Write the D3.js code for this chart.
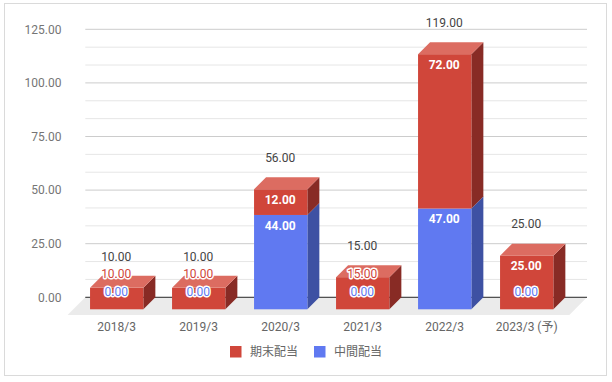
<!DOCTYPE html>
<html>
<head>
<meta charset="utf-8">
<script src="https://cdn.jsdelivr.net/npm/d3@7"></script>
<style>
  body { margin: 0; background: #fff; }
  text { font-family: Roboto, "Noto Sans CJK JP", sans-serif; }
</style>
</head>
<body>
<div id="chart"></div>
<script>
const categories = ['2018/3', '2019/3', '2020/3', '2021/3', '2022/3', '2023/3 (予)']
const interim = [0, 0, 44, 0, 47, 0]   // 中間配当
const final = [10, 10, 12, 15, 72, 25]   // 期末配当
const yTicks = [0, 25, 50, 75, 100, 125]

const seriesNames = ['期末配当', '中間配当']
const colors = {
  final: { front: '#d0463a', top: '#dc6c61', side: '#882b25' },
  interim: { front: '#6079f1', top: '#8a9cf4', side: '#3e51a3' },
}

const width = 612
const height = 382
const depth = 12        // bar depth offset
const floorDepth = 17.7
const labelGap = 17.6

const svg = d3.select('#chart').append('svg')
  .attr('width', width)
  .attr('height', height)

// border
svg.append('rect')
  .attr('x', 4.5).attr('y', 3.5)
  .attr('width', 602).attr('height', 372)
  .attr('fill', 'none')
  .attr('stroke', '#dadada')

// scales (front plane)
const x = d3.scaleBand()
  .domain(categories)
  .range([75.7, 567.7])
  .paddingInner(0.35)
  .paddingOuter(0.175)

const y = d3.scaleLinear()
  .domain([0, 125])
  .range([309.3, 309.3 - 125 * 2.144])

const wallLeft = 85.3
const wallRight = 587
const yBack = v => y(v) - depth

// floor
svg.append('polygon')
  .attr('points', [
    [wallLeft - floorDepth, y(0) + 5.7],
    [wallLeft, yBack(0)],
    [wallRight, yBack(0)],
    [wallRight - floorDepth, y(0) + 5.7],
  ].join(' '))
  .attr('fill', '#ebebeb')

// gridlines on back wall
const minor = d3.range(0, 125.01, 25 / 3)
svg.append('g').selectAll('line')
  .data(minor)
  .join('line')
  .attr('x1', wallLeft).attr('x2', wallRight)
  .attr('y1', d => yBack(d)).attr('y2', d => yBack(d))
  .attr('stroke', d => Math.abs(d % 25) < 0.01 || Math.abs(d % 25 - 25) < 0.01 ? '#cccccc' : '#e6e6e6')
  .attr('stroke-width', 1)

svg.append('line')
  .attr('x1', wallLeft).attr('x2', wallRight)
  .attr('y1', yBack(0)).attr('y2', yBack(0))
  .attr('stroke', '#333')

// y-axis labels
svg.append('g').selectAll('text')
  .data(yTicks)
  .join('text')
  .attr('x', 61.5)
  .attr('y', d => yBack(d))
  .attr('dy', '0.35em')
  .attr('text-anchor', 'end')
  .attr('font-size', 12)
  .attr('fill', '#757575')
  .text(d => d.toFixed(2))

// stacked data
const bars = categories.map((c, i) => {
  const segs = [
    { key: 'interim', v0: 0, v1: interim[i], value: interim[i] },
    { key: 'final', v0: interim[i], v1: interim[i] + final[i], value: final[i] },
  ]
  return { cat: c, segs, total: interim[i] + final[i] }
})

const plot = svg.append('g')
const bw = x.bandwidth()

bars.forEach(b => {
  const x0 = x(b.cat)
  const g = plot.append('g')
  const visible = b.segs.filter(s => s.value > 0)
  visible.forEach(s => {
    const yt = y(s.v1), yb = y(s.v0)
    // side
    g.append('polygon')
      .attr('points', [[x0 + bw, yt], [x0 + bw + depth, yt - depth], [x0 + bw + depth, yb - depth], [x0 + bw, yb]].join(' '))
      .attr('fill', colors[s.key].side)
    // front
    g.append('rect')
      .attr('x', x0).attr('y', yt)
      .attr('width', bw).attr('height', yb - yt)
      .attr('fill', colors[s.key].front)
  })
  const topSeg = visible[visible.length - 1]
  const yt = y(topSeg.v1)
  g.append('polygon')
    .attr('points', [[x0, yt], [x0 + depth, yt - depth], [x0 + bw + depth, yt - depth], [x0 + bw, yt]].join(' '))
    .attr('fill', colors[topSeg.key].top)
})

// labels: inside the segment when there is room, otherwise haloed and pushed up
const labels = svg.append('g')
bars.forEach(b => {
  const cx = x(b.cat) + bw / 2 - 0.5
  let prev = null
  b.segs.forEach(s => {
    let ly = y(s.v1) + 10.5
    let inside = true
    if (s.value === 0) {
      ly = y(0) - labelGap
      inside = false
    } else if (prev !== null && ly > prev - labelGap) {
      ly = prev - labelGap
      inside = false
    }
    prev = ly
    const t = labels.append('text')
      .attr('x', cx).attr('y', ly)
      .attr('dy', '0.35em')
      .attr('text-anchor', 'middle')
      .attr('font-size', 12)
      .text(s.value.toFixed(2))
    if (inside) {
      t.attr('font-weight', 'bold').attr('fill', '#fff')
    } else {
      t.attr('fill', colors[s.key].front)
        .attr('stroke', '#fff')
        .attr('stroke-width', 3)
        .attr('stroke-linejoin', 'round')
        .attr('paint-order', 'stroke')
    }
  })
  labels.append('text')
    .attr('x', cx).attr('y', y(b.total) - 31.5)
    .attr('dy', '0.35em')
    .attr('text-anchor', 'middle')
    .attr('font-size', 12)
    .attr('fill', '#444')
    .text(b.total.toFixed(2))
})

// x-axis labels
svg.append('g').selectAll('text')
  .data(categories)
  .join('text')
  .attr('x', d => x(d) + bw / 2)
  .attr('y', 326.5)
  .attr('dy', '0.35em')
  .attr('text-anchor', 'middle')
  .attr('font-size', 12)
  .attr('fill', '#666')
  .text(d => d)

// legend
const legend = svg.append('g')
const legendItems = [
  { name: seriesNames[0], color: colors.final.front, x: 230 },
  { name: seriesNames[1], color: colors.interim.front, x: 314 },
]
legendItems.forEach(d => {
  legend.append('rect')
    .attr('x', d.x).attr('y', 346)
    .attr('width', 11.5).attr('height', 11.5)
    .attr('fill', d.color)
  legend.append('text')
    .attr('x', d.x + 20).attr('y', 351.5)
    .attr('dy', '0.35em')
    .attr('font-size', 12)
    .attr('fill', '#666')
    .text(d.name)
})
</script>
</body>
</html>
